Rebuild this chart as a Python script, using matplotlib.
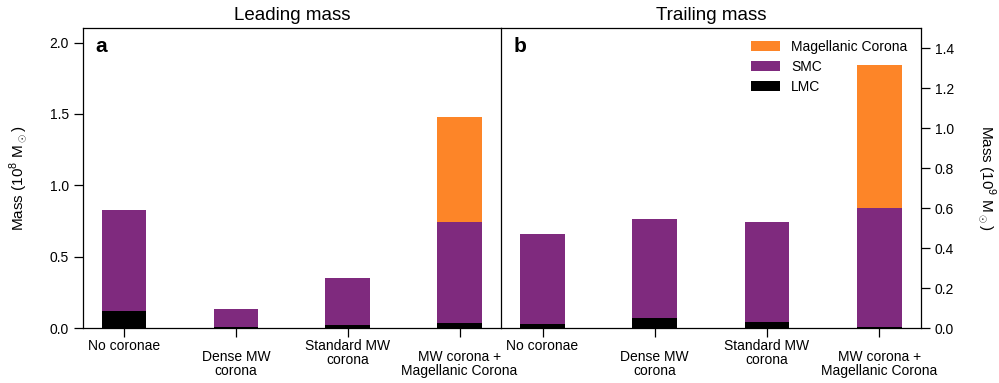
import matplotlib
matplotlib.use('Agg')
import matplotlib.pyplot as plt
import numpy as np

plt.rcParams['font.family'] = ['Liberation Sans', 'DejaVu Sans']
plt.rcParams['mathtext.fontset'] = 'custom'
plt.rcParams['mathtext.rm'] = 'Liberation Sans'

# Data
categories = ['No coronae', 'Dense MW\ncorona', 'Standard MW\ncorona', 'MW corona +\nMagellanic Corona']
lead_lmc = [0.12, 0.007, 0.02, 0.035]
lead_smc = [0.71, 0.126, 0.33, 0.71]
lead_mc = [0.0, 0.0, 0.0, 0.735]
trail_lmc = [0.02, 0.05, 0.03, 0.005]
trail_smc = [0.45, 0.496, 0.50, 0.595]
trail_mc = [0.0, 0.0, 0.0, 0.716]

c_lmc = '#000000'
c_smc = '#7f2a7e'
c_mc = '#fd8528'

fig = plt.figure(figsize=(9.99, 3.83), dpi=100)
ax1 = fig.add_axes([0.0828, 0.1436, 0.4187, 0.7825])
ax2 = fig.add_axes([0.5015, 0.1436, 0.4201, 0.7825])

x = np.arange(len(categories))
w = 0.4


def draw_bars(ax, lmc, smc, mc):
    lmc = np.array(lmc)
    smc = np.array(smc)
    mc = np.array(mc)
    ax.bar(x, lmc, w, color=c_lmc, label='LMC')
    ax.bar(x, smc, w, bottom=lmc, color=c_smc, label='SMC')
    ax.bar(x, mc, w, bottom=lmc + smc, color=c_mc, label='Magellanic Corona')
    ax.set_xlim(-0.37, 3.37)
    ax.set_xticks(x)
    ax.set_xticklabels(categories, fontsize=10, linespacing=1.0)
    ax.tick_params(axis='both', direction='out', length=6.5, width=0.9, labelsize=10)
    for sp in ax.spines.values():
        sp.set_linewidth(0.9)
    ticks = ax.xaxis.get_major_ticks()
    for i, t in enumerate(ticks):
        if i % 2 == 1:
            t.set_pad(9.5)
        else:
            t.set_pad(1.5)


draw_bars(ax1, lead_lmc, lead_smc, lead_mc)
draw_bars(ax2, trail_lmc, trail_smc, trail_mc)

ax1.set_ylim(0, 2.1)
ax1.set_yticks(np.arange(0, 2.01, 0.5))
ax1.set_yticklabels(['%.1f' % v for v in np.arange(0, 2.01, 0.5)])
ax1.set_ylabel(r'Mass (10$^8$ M$_\odot$)', fontsize=11, labelpad=15)
ax1.spines['right'].set_visible(False)
ax1.set_title('Leading mass', fontsize=13.5, pad=6)
ax1.text(0.03, 0.938, 'a', transform=ax1.transAxes, fontsize=15, fontweight='bold', va='center')

ax2.set_ylim(0, 1.5)
ax2.yaxis.tick_right()
ax2.yaxis.set_label_position('right')
ax2.set_yticks(np.arange(0, 1.41, 0.2))
ax2.set_yticklabels(['%.1f' % v for v in np.arange(0, 1.41, 0.2)])
ax2.set_ylabel(r'Mass (10$^9$ M$_\odot$)', fontsize=11, rotation=-90, labelpad=32)
ax2.set_title('Trailing mass', fontsize=13.5, pad=6)
ax2.text(0.03, 0.938, 'b', transform=ax2.transAxes, fontsize=15, fontweight='bold', va='center')

handles, labels = ax2.get_legend_handles_labels()
ax2.legend(handles[::-1], labels[::-1], loc='upper left', bbox_to_anchor=(0.595, 0.962),
           frameon=False, fontsize=10, handlelength=2.1, handleheight=0.75,
           handletextpad=0.8, labelspacing=0.45, borderpad=0, borderaxespad=0)

fig.savefig('out.png', dpi=100)
